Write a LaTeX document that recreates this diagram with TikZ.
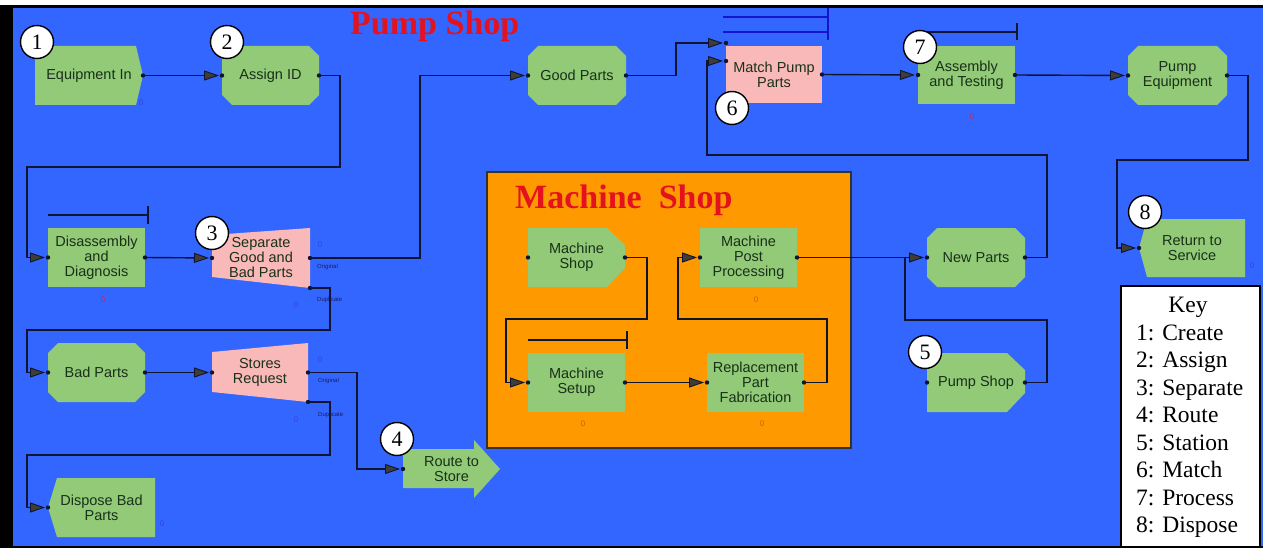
\documentclass[tikz,border=0pt]{standalone}
\usepackage{fontspec}
\setmainfont{Liberation Serif}
\newfontfamily\arialf{Liberation Sans}
\usetikzlibrary{calc,arrows.meta}
\definecolor{bgblue}{RGB}{51,102,255}
\definecolor{boxgreen}{RGB}{146,202,120}
\definecolor{boxpink}{RGB}{250,185,185}
\definecolor{shoporange}{RGB}{255,153,0}
\definecolor{titlered}{RGB}{228,18,30}
\definecolor{linec}{RGB}{15,20,50}
\definecolor{txtc}{RGB}{25,48,25}
\definecolor{arrowgray}{RGB}{62,62,52}
\definecolor{qblue}{RGB}{20,20,205}
\definecolor{cntblue}{RGB}{50,70,210}
\definecolor{cntred}{RGB}{200,40,80}
\definecolor{cntorange}{RGB}{200,100,0}
\definecolor{smalltxt}{RGB}{25,30,100}
\tikzset{
  mod/.style={inner sep=0pt,outer sep=0pt,align=center,text=txtc,
    font=\arialf\fontsize{14.5}{15}\selectfont},
  procsh/.style={fill=boxgreen},
  matchsh/.style={fill=boxpink},
  assignsh/.style={path picture={
    \path (path picture bounding box.north west) coordinate (pA)
          (path picture bounding box.south east) coordinate (pB);
    \fill[boxgreen] let \p1=(pA),\p2=(pB) in
      ({\x1+10pt},\y1) -- ({\x2-10pt},\y1) -- (\x2,{\y1-10pt}) -- (\x2,{\y2+10pt})
      -- ({\x2-10pt},\y2) -- ({\x1+10pt},\y2) -- (\x1,{\y2+10pt}) -- (\x1,{\y1-10pt}) -- cycle;}},
  createsh/.style={path picture={
    \path (path picture bounding box.north west) coordinate (pA)
          (path picture bounding box.south east) coordinate (pB);
    \fill[boxgreen] let \p1=(pA),\p2=(pB) in
      (\x1,\y1) -- ({\x2-7pt},\y1) -- (\x2,{(\y1+\y2)/2}) -- ({\x2-7pt},\y2) -- (\x1,\y2) -- cycle;}},
  dispsh/.style={path picture={
    \path (path picture bounding box.north west) coordinate (pA)
          (path picture bounding box.south east) coordinate (pB);
    \fill[boxgreen] let \p1=(pA),\p2=(pB) in
      ({\x1+#1},\y1) -- (\x2,\y1) -- (\x2,\y2) -- ({\x1+#1},\y2) -- (\x1,{(\y1+\y2)/2}) -- cycle;}},
  stationsh/.style={path picture={
    \path (path picture bounding box.north west) coordinate (pA)
          (path picture bounding box.south east) coordinate (pB);
    \fill[boxgreen] let \p1=(pA),\p2=(pB) in
      (\x1,\y1) -- ({\x2-18pt},\y1) -- (\x2,{\y1-17pt}) -- (\x2,{\y2+19pt})
      -- ({\x2-18pt},\y2) -- (\x1,\y2) -- cycle;}},
  sepsh/.style 2 args={path picture={
    \path (path picture bounding box.north west) coordinate (pA)
          (path picture bounding box.south east) coordinate (pB);
    \fill[boxpink] let \p1=(pA),\p2=(pB) in
      (\x1,{\y1-#1}) -- (\x2,\y1) -- (\x2,\y2) -- (\x1,{\y2+#2}) -- cycle;}},
  routesh/.style={path picture={
    \path (path picture bounding box.north west) coordinate (pA)
          (path picture bounding box.south east) coordinate (pB);
    \fill[boxgreen] let \p1=(pA),\p2=(pB) in
      (\x1,{\y1-9pt}) -- ({\x2-26pt},{\y1-9pt}) -- ({\x2-26pt},\y1) -- (\x2,{(\y1+\y2)/2})
      -- ({\x2-26pt},\y2) -- ({\x2-26pt},{\y2+10pt}) -- (\x1,{\y2+10pt}) -- cycle;}},
  conn/.style={draw=linec,line width=1.4pt},
  arr/.style={-{Triangle[length=15pt,width=10pt,fill=arrowgray,line width=0.9pt]},shorten >=3pt},
  queue/.style={draw=linec,line width=1.3pt},
  mqueue/.style={draw=qblue,line width=1.2pt},
  numc/.style={circle,draw=black,line width=1.4pt,fill=white,minimum size=33pt,inner sep=0pt,
    font=\fontsize{22}{22}\selectfont},
  cnt/.style={inner sep=0pt,font=\arialf\fontsize{8}{8}\selectfont},
  small/.style={inner sep=0pt,anchor=west,text=smalltxt,font=\arialf\fontsize{6}{6}\selectfont},
  keytxt/.style={inner sep=0pt,font=\fontsize{23.5}{23.5}\selectfont},
  title/.style={inner sep=0pt,anchor=base west,text=titlered,font=\bfseries\fontsize{34}{34}\selectfont}
}
\begin{document}
\begin{tikzpicture}[x=1pt,y=1pt]
\useasboundingbox (0,0) rectangle (1263,-548);
% background
\fill[white] (0,0) rectangle (1263,-548);
\fill[black] (0,-5.5) rectangle (1263,-548);
\fill[bgblue] (13,-8) rectangle (1263,-546);
% machine shop area
\draw[fill=shoporange,draw=black!80,line width=1.2pt] (487,-172) rectangle (851,-448);
% titles
\node[title] (pstitle) at (350,-35) {Pump Shop};
\node[title] (mstitle) at (515,-208) {Machine~~Shop};

% modules
\node[mod,createsh,minimum width=108,minimum height=59] (eqin) at (89,-75.5) {Equipment In};
\node[mod,assignsh,minimum width=97,minimum height=59] (assign) at (270.5,-75.5) {Assign ID};
\node[mod,assignsh,minimum width=98,minimum height=59] (good) at (577,-75.5) {Good Parts};
\node[mod,matchsh,minimum width=96,minimum height=57] (match) at (774,-74.5) {Match Pump\\Parts};
\node[mod,procsh,minimum width=97,minimum height=58] (assembly) at (966.5,-75) {Assembly\\and Testing};
\node[mod,assignsh,minimum width=99,minimum height=59] (pumpeq) at (1177.5,-75.5) {Pump\\Equipment};
\node[mod,procsh,minimum width=97,minimum height=59] (disasm) at (96.5,-257.5) {Disassembly\\and\\Diagnosis};
\node[mod,sepsh={7pt}{11pt},minimum width=98,minimum height=60] (separate) at (261,-258) {Separate\\Good and\\Bad Parts};
\node[mod,assignsh,minimum width=97,minimum height=59] (badparts) at (96.5,-372.5) {Bad Parts};
\node[mod,sepsh={9pt}{10pt},minimum width=96,minimum height=59] (stores) at (260,-372.5) {Stores\\Request};
\node[mod,dispsh=9pt,minimum width=107,minimum height=59] (dispose) at (101.5,-507.5) {Dispose Bad\\Parts};
\node[mod,routesh,minimum width=97,minimum height=58] (route) at (451.5,-469) {Route to\\Store};
\node[mod,stationsh,minimum width=97,minimum height=59] (msstation) at (576.5,-257.5) {Machine\\Shop};
\node[mod,procsh,minimum width=97,minimum height=59] (msetup) at (576.5,-382.5) {Machine\\Setup};
\node[mod,procsh,minimum width=97,minimum height=59] (repl) at (755.5,-382.5) {Replacement\\Part\\Fabrication};
\node[mod,procsh,minimum width=97,minimum height=59] (mpost) at (748.5,-257.5) {Machine\\Post\\Processing};
\node[mod,assignsh,minimum width=98,minimum height=59] (newparts) at (976,-257.5) {New Parts};
\node[mod,stationsh,minimum width=98,minimum height=59] (pumpshop) at (976,-382.5) {Pump Shop};
\node[mod,dispsh=8pt,minimum width=106,minimum height=58] (ret) at (1192,-248) {Return to\\Service};

% queues
\draw[queue] ([yshift=13pt]disasm.north west) -- ([shift={(3pt,13pt)}]disasm.north east)
  ([shift={(3pt,22pt)}]disasm.north east) -- ([shift={(3pt,4pt)}]disasm.north east);
\draw[queue] ([shift={(9pt,14pt)}]assembly.north west) -- ([shift={(2pt,14pt)}]assembly.north east)
  ([shift={(2pt,23pt)}]assembly.north east) -- ([shift={(2pt,6pt)}]assembly.north east);
\draw[queue] ([yshift=13pt]msetup.north west) -- ([shift={(2pt,13pt)}]msetup.north east)
  ([shift={(2pt,22pt)}]msetup.north east) -- ([shift={(2pt,4pt)}]msetup.north east);
\draw[mqueue] ([shift={(-3pt,29pt)}]match.north west) -- ([shift={(6pt,29pt)}]match.north east)
  ([shift={(-3pt,14pt)}]match.north west) -- ([shift={(6pt,14pt)}]match.north east)
  ([shift={(6pt,38pt)}]match.north east) -- ([shift={(6pt,6pt)}]match.north east);

% waypoints
\coordinate (ja) at (340,-167);  \coordinate (jb) at (27,-167);
\coordinate (jc) at (420,-75.5);
\coordinate (jd) at (330,-330);  \coordinate (je) at (27,-330);
\coordinate (jf) at (357,-420);
\coordinate (jg) at (330,-455);  \coordinate (jh) at (27,-455);
\coordinate (ji) at (676,-55);
\coordinate (m1) at ([yshift=3pt]match.north west);
\coordinate (m2) at ([yshift=-15pt]match.north west);
\coordinate (jk) at (1047,-155); \coordinate (jl) at (707,-155);
\coordinate (jm) at (1248,-160); \coordinate (jn) at (1117,-160);
\coordinate (jo) at (647,-319);  \coordinate (jp) at (506,-319);
\coordinate (jq) at (827,-319);  \coordinate (jr) at (678,-319);
\coordinate (js) at (1047,-320); \coordinate (jt) at (905,-320);
\coordinate (jj) at (905,-257.5);

% connectors
\draw[conn,arr] (eqin.east) -- (assign.west);
\draw[conn,arr] (assign.east) -| (ja) -- (jb) |- (disasm.west);
\draw[conn,arr] (disasm.east) -- (separate.west);
\draw[conn,arr] (separate.east) -| (jc) -- (good.west);
\draw[conn,arr] (separate.south east) -| (jd) -- (je) |- (badparts.west);
\draw[conn,arr] (badparts.east) -- (stores.west);
\draw[conn,arr] (stores.east) -| (jf) |- (route.west);
\draw[conn,arr] (stores.south east) -| (jg) -- (jh) |- (dispose.west);
\draw[conn,arr] (good.east) -| (ji) |- (m1);
\draw[conn,arr] (newparts.east) -| (jk) -- (jl) |- (m2);
\draw[conn,arr] (match.east) -- (assembly.west);
\draw[conn,arr] (assembly.east) -- (pumpeq.west);
\draw[conn,arr] (pumpeq.east) -| (jm) -- (jn) |- (ret.west);
\draw[conn,arr] (msstation.east) -| (jo) -- (jp) |- (msetup.west);
\draw[conn,arr] (msetup.east) -- (repl.west);
\draw[conn,arr] (repl.east) -| (jq) -- (jr) |- (mpost.west);
\draw[conn,arr] (mpost.east) -- (newparts.west);
\draw[conn] (pumpshop.east) -| (js) -- (jt) -- (jj);

% connection dots
\foreach \p in {eqin.east,assign.west,assign.east,good.west,good.east,m1,m2,match.east,
  assembly.west,assembly.east,pumpeq.west,pumpeq.east,ret.west,disasm.west,disasm.east,
  separate.west,separate.east,separate.south east,badparts.west,badparts.east,stores.west,
  stores.east,stores.south east,route.west,dispose.west,msstation.west,msstation.east,
  msetup.west,msetup.east,repl.west,repl.east,mpost.west,mpost.east,newparts.west,
  newparts.east,pumpshop.west,pumpshop.east}
  \fill[linec] (\p) circle (2.2pt);

% small labels
\node[small] (so) at (317,-267) {Original};
\node[small] (sd) at (317,-300) {Duplicate};
\node[small] (ro) at (318,-381) {Original};
\node[small] (rd) at (318,-415) {Duplicate};

% counters
\node[cnt,text=cntblue] (c1) at (141,-103) {0};
\node[cnt,text=cntred] (c2) at (103,-300) {0};
\node[cnt,text=cntblue] (c3) at (320,-245) {0};
\node[cnt,text=cntblue] (c4) at (296,-305) {0};
\node[cnt,text=cntblue] (c5) at (320,-360) {0};
\node[cnt,text=cntblue] (c6) at (296,-420) {0};
\node[cnt,text=cntblue] (c7) at (162,-524) {0};
\node[cnt,text=cntred] (c8) at (972,-117) {0};
\node[cnt,text=cntblue] (c9) at (1252,-266) {0};
\node[cnt,text=cntorange] (c10) at (756,-300) {0};
\node[cnt,text=cntorange] (c11) at (583,-424) {0};
\node[cnt,text=cntorange] (c12) at (762,-424) {0};

% number circles
\node[numc] (n1) at (37,-42) {1};
\node[numc] (n2) at (227,-42) {2};
\node[numc] (n3) at (212,-233) {3};
\node[numc] (n4) at (397,-439) {4};
\node[numc] (n5) at (925,-352) {5};
\node[numc] (n6) at (732,-108) {6};
\node[numc] (n7) at (920,-47) {7};
\node[numc] (n8) at (1145,-212) {8};

% key
\node[draw=black,line width=2pt,fill=white,minimum width=139,minimum height=261,inner sep=0pt] (key) at (1190.5,-416.5) {};
\node[keytxt,anchor=base] (keyt) at (1188,-312) {Key};
\foreach \t [count=\i] in {1: Create,2: Assign,3: Separate,4: Route,5: Station,6: Match,7: Process,8: Dispose}
  \node[keytxt,anchor=base west] (k\i) at (1136,{-340-27.5*(\i-1)}) {\t};
\end{tikzpicture}
\end{document}
